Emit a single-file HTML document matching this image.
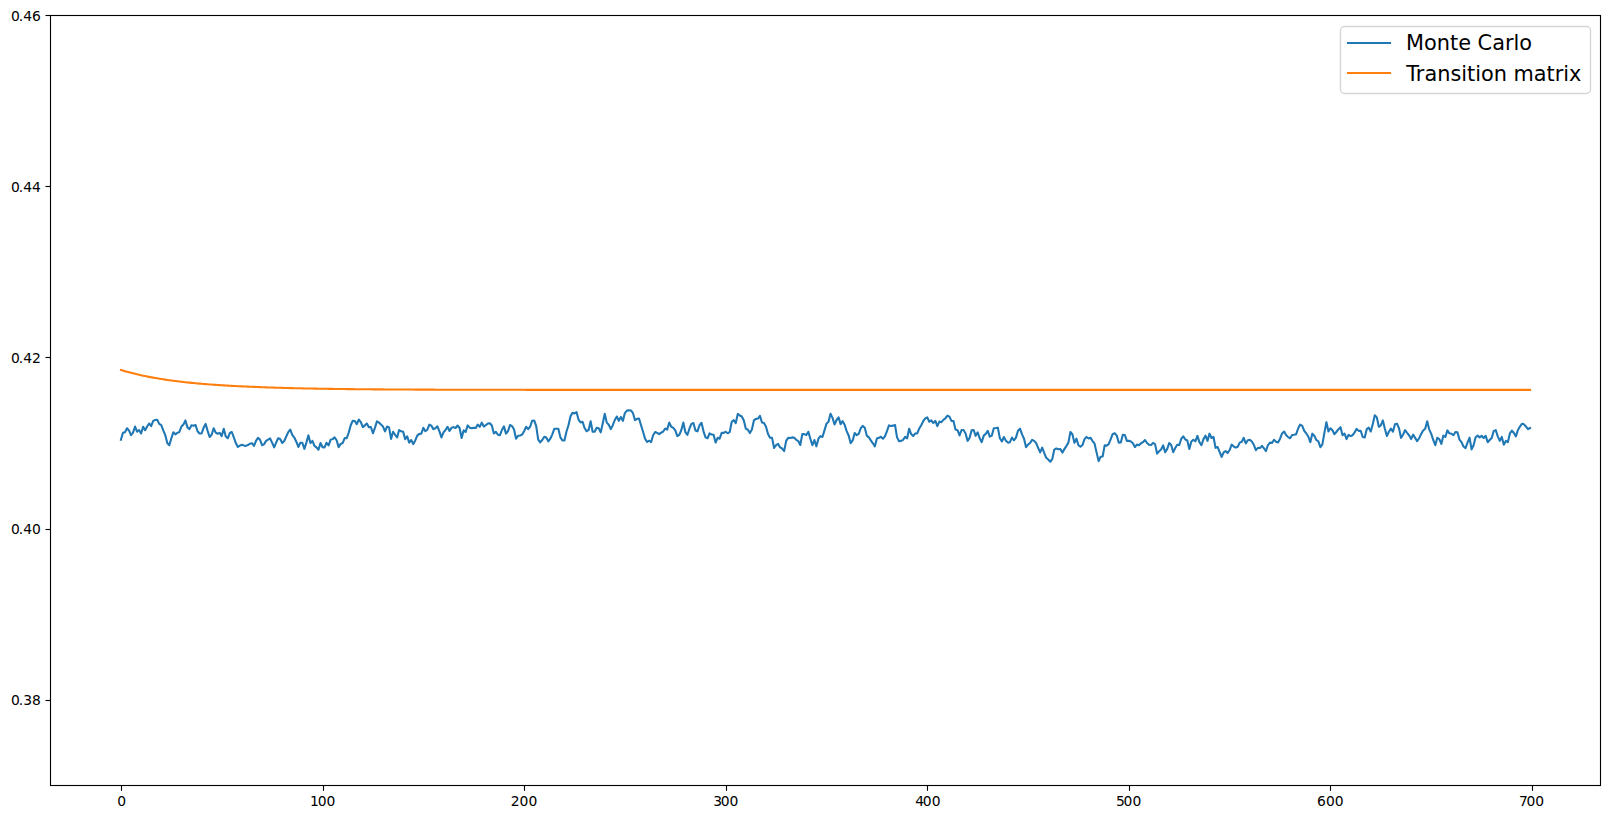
<!DOCTYPE html>
<html><head><meta charset="utf-8"><title>Monte Carlo vs Transition matrix</title>
<style>
html,body{margin:0;padding:0;background:#fff;}
body{width:1610px;height:819px;overflow:hidden;}
svg{display:block;}
text{font-family:"DejaVu Sans","Liberation Sans",sans-serif;fill:#000;}
.t{font-size:13.89px;}
.lg{font-size:20.83px;}
</style></head><body>
<svg width="1610" height="819" viewBox="0 0 1610 819">
<rect x="0" y="0" width="1610" height="819" fill="#fff"/>

<defs><clipPath id="c"><rect x="50.5" y="15.5" width="1550.0" height="770.0"/></clipPath></defs>
<g clip-path="url(#c)" fill="none" stroke-linejoin="round" stroke-linecap="square" stroke-width="2.08">
<polyline points="120.93,439.83 122.95,432.78 124.97,432.17 126.98,428.26 129.00,430.43 131.01,435.22 133.03,432.61 135.05,426.52 137.06,431.74 139.08,430.00 141.09,433.48 143.11,426.78 145.12,430.26 147.14,426.52 149.16,423.48 151.17,426.09 153.19,420.87 155.20,420.00 157.22,419.83 159.24,423.91 161.25,425.22 163.27,430.43 165.28,435.22 167.30,443.04 169.32,445.22 171.33,438.26 173.35,432.35 175.36,434.35 177.38,432.87 179.39,432.00 181.41,426.52 183.43,424.52 185.44,420.43 187.46,427.39 189.47,429.13 191.49,425.22 193.51,425.65 195.52,424.96 197.54,431.30 199.55,433.48 201.57,433.48 203.59,427.83 205.60,423.91 207.62,430.87 209.63,436.96 211.65,434.78 213.66,428.26 215.68,432.61 217.70,433.74 219.71,432.87 221.73,436.09 223.74,428.70 225.76,436.52 227.78,438.26 229.79,433.04 231.81,432.00 233.82,437.39 235.84,443.04 237.85,446.96 239.87,445.65 241.89,444.78 243.90,445.39 245.92,445.91 247.93,445.04 249.95,443.74 251.97,443.22 253.98,445.91 256.00,440.87 258.01,437.83 260.03,439.83 262.05,445.22 264.06,444.35 266.08,440.87 268.09,439.57 270.11,438.43 272.12,442.61 274.14,447.39 276.16,442.61 278.17,438.26 280.19,438.96 282.20,443.04 284.22,441.04 286.24,436.52 288.25,432.17 290.27,429.57 292.28,434.96 294.30,437.57 296.31,441.74 298.33,446.96 300.35,442.78 302.36,442.78 304.38,448.87 306.39,442.61 308.41,435.39 310.43,443.04 312.44,440.87 314.46,445.91 316.47,447.39 318.49,449.74 320.51,443.04 322.52,447.22 324.54,447.39 326.55,442.78 328.57,445.39 330.58,439.83 332.60,439.13 334.62,437.39 336.63,440.26 338.65,447.13 340.66,443.91 342.68,443.04 344.70,438.09 346.71,438.26 348.73,432.61 350.74,425.22 352.76,420.70 354.78,421.04 356.79,424.17 358.81,419.57 360.82,422.17 362.84,427.22 364.85,425.39 366.87,423.48 368.89,427.13 370.90,426.96 372.92,433.30 374.93,427.83 376.95,421.30 378.97,422.61 380.98,424.61 383.00,426.52 385.01,431.48 387.03,426.52 389.04,427.39 391.06,438.87 393.08,431.74 395.09,434.78 397.11,437.39 399.12,430.00 401.14,431.30 403.16,431.74 405.17,439.13 407.19,436.35 409.20,442.61 411.22,440.00 413.24,444.17 415.25,440.43 417.27,435.65 419.28,433.91 421.30,433.74 423.31,427.83 425.33,431.13 427.35,429.74 429.36,424.61 431.38,425.65 433.39,429.13 435.41,428.26 437.43,426.35 439.44,431.30 441.46,437.39 443.47,432.35 445.49,430.00 447.50,426.78 449.52,431.04 451.54,427.83 453.55,427.13 455.57,428.00 457.58,425.48 459.60,428.00 461.62,438.00 463.63,430.43 465.65,432.00 467.66,425.39 469.68,427.65 471.70,428.26 473.71,427.65 475.73,428.00 477.74,424.61 479.76,426.78 481.77,422.61 483.79,426.52 485.81,425.22 487.82,423.48 489.84,423.22 491.85,425.48 493.87,433.48 495.89,431.74 497.90,434.78 499.92,435.22 501.93,430.00 503.95,426.35 505.97,433.65 507.98,431.30 510.00,425.04 512.01,426.09 514.03,429.57 516.04,438.70 518.06,435.83 520.08,435.48 522.09,434.61 524.11,431.30 526.12,426.78 528.14,429.13 530.16,426.78 532.17,420.70 534.19,420.43 536.20,426.09 538.22,439.57 540.23,442.43 542.25,440.00 544.27,436.70 546.28,437.57 548.30,441.30 550.31,438.70 552.33,434.35 554.35,428.70 556.36,428.70 558.38,428.70 560.39,437.39 562.41,440.43 564.43,440.43 566.44,431.74 568.46,425.22 570.47,416.52 572.49,412.87 574.50,413.48 576.52,412.17 578.54,419.57 580.55,422.43 582.57,421.74 584.58,428.00 586.60,431.13 588.62,430.00 590.63,421.30 592.65,431.74 594.66,431.74 596.68,427.83 598.69,428.26 600.71,432.35 602.73,423.48 604.74,413.74 606.76,422.61 608.77,424.78 610.79,429.13 612.81,425.22 614.82,420.00 616.84,416.52 618.85,420.87 620.87,416.96 622.89,420.87 624.90,413.04 626.92,410.61 628.93,410.26 630.95,410.43 632.96,413.04 634.98,420.17 637.00,418.87 639.01,418.52 641.03,425.22 643.04,431.74 645.06,438.70 647.08,442.00 649.09,440.70 651.11,442.17 653.12,435.22 655.14,432.00 657.16,432.87 659.17,434.17 661.19,432.61 663.20,431.48 665.22,428.52 667.23,429.57 669.25,422.61 671.27,426.78 673.28,427.83 675.30,430.43 677.31,436.09 679.33,434.78 681.35,430.00 683.36,422.61 685.38,432.17 687.39,434.96 689.41,428.70 691.42,423.91 693.44,423.04 695.46,430.43 697.47,431.30 699.49,425.22 701.50,422.78 703.52,431.30 705.54,437.39 707.55,438.26 709.57,433.30 711.58,434.52 713.60,434.78 715.62,442.61 717.63,437.83 719.65,438.70 721.66,432.87 723.68,432.87 725.69,431.74 727.71,433.30 729.73,432.00 731.74,421.74 733.76,420.17 735.77,423.04 737.79,413.91 739.81,415.48 741.82,416.52 743.84,420.43 745.85,428.70 747.87,429.74 749.88,433.04 751.90,429.57 753.92,420.43 755.93,418.96 757.95,418.52 759.96,415.83 761.98,422.43 764.00,423.04 766.01,426.78 768.03,434.09 770.04,437.83 772.06,437.83 774.08,448.00 776.09,445.22 778.11,443.91 780.12,447.39 782.14,448.52 784.15,451.13 786.17,440.87 788.19,437.83 790.20,438.00 792.22,437.39 794.23,437.83 796.25,439.83 798.27,441.04 800.28,444.96 802.30,434.09 804.31,434.09 806.33,435.04 808.35,431.74 810.36,438.70 812.38,445.22 814.39,440.00 816.41,446.35 818.42,438.70 820.44,436.09 822.46,436.96 824.47,430.43 826.49,423.65 828.50,421.74 830.52,413.65 832.54,417.83 834.55,424.52 836.57,420.00 838.58,417.39 840.60,424.17 842.61,421.13 844.63,424.78 846.65,431.13 848.66,435.48 850.68,443.22 852.69,440.43 854.71,433.04 856.73,435.22 858.74,433.91 860.76,428.26 862.77,425.91 864.79,427.83 866.81,435.65 868.82,437.39 870.84,440.43 872.85,443.30 874.87,446.35 876.88,438.52 878.90,437.83 880.92,436.78 882.93,438.70 884.95,436.35 886.96,431.13 888.98,425.39 891.00,425.91 893.01,425.65 895.03,424.96 897.04,437.39 899.06,441.30 901.08,440.87 903.09,439.83 905.11,436.96 907.12,438.43 909.14,428.70 911.15,434.09 913.17,436.09 915.19,433.48 917.20,433.48 919.22,428.52 921.23,425.22 923.25,421.13 925.27,418.43 927.28,417.39 929.30,421.74 931.31,420.43 933.33,423.04 935.34,420.87 937.36,426.09 939.38,421.57 941.39,422.17 943.41,419.83 945.42,418.26 947.44,415.65 949.46,416.70 951.47,420.87 953.49,421.04 955.50,429.57 957.52,430.17 959.54,435.48 961.55,430.00 963.57,430.00 965.58,433.48 967.60,440.87 969.61,437.83 971.63,430.26 973.65,430.00 975.66,435.83 977.68,432.35 979.69,438.26 981.71,442.17 983.73,435.65 985.74,433.91 987.76,430.87 989.77,436.70 991.79,435.65 993.80,428.26 995.82,428.00 997.84,427.65 999.85,438.26 1001.87,441.48 1003.88,436.96 1005.90,440.70 1007.92,442.61 1009.93,442.17 1011.95,437.57 1013.96,440.26 1015.98,437.65 1018.00,430.70 1020.01,428.70 1022.03,434.35 1024.04,438.70 1026.06,447.22 1028.07,444.61 1030.09,443.04 1032.11,439.83 1034.12,440.87 1036.14,443.04 1038.15,447.83 1040.17,452.43 1042.19,447.65 1044.20,452.78 1046.22,457.83 1048.23,459.57 1050.25,461.74 1052.27,459.13 1054.28,449.57 1056.30,448.52 1058.31,449.30 1060.33,448.96 1062.34,452.61 1064.36,449.13 1066.38,446.09 1068.39,442.61 1070.41,432.00 1072.42,434.17 1074.44,442.87 1076.46,438.70 1078.47,445.22 1080.49,446.70 1082.50,445.04 1084.52,439.13 1086.53,436.96 1088.55,438.52 1090.57,437.83 1092.58,441.04 1094.60,443.74 1096.61,452.61 1098.63,461.13 1100.65,456.70 1102.66,456.52 1104.68,445.39 1106.69,445.65 1108.71,444.17 1110.73,439.13 1112.74,433.91 1114.76,433.22 1116.77,435.65 1118.79,442.61 1120.80,442.43 1122.82,434.78 1124.84,434.96 1126.85,440.87 1128.87,440.70 1130.88,441.48 1132.90,443.22 1134.92,446.96 1136.93,444.61 1138.95,445.22 1140.96,443.22 1142.98,442.17 1144.99,440.00 1147.01,443.04 1149.03,444.78 1151.04,444.96 1153.06,442.87 1155.07,444.09 1157.09,453.65 1159.11,451.30 1161.12,449.57 1163.14,445.39 1165.15,452.17 1167.17,449.13 1169.19,443.04 1171.20,445.04 1173.22,452.17 1175.23,448.00 1177.25,444.78 1179.26,445.04 1181.28,438.70 1183.30,436.35 1185.31,439.57 1187.33,440.43 1189.34,448.96 1191.36,441.57 1193.38,439.74 1195.39,441.30 1197.41,435.91 1199.42,442.17 1201.44,445.22 1203.46,439.13 1205.47,435.65 1207.49,440.87 1209.50,433.65 1211.52,438.00 1213.53,436.96 1215.55,447.83 1217.57,446.96 1219.58,451.91 1221.60,456.96 1223.61,452.43 1225.63,451.04 1227.65,453.04 1229.66,450.00 1231.68,444.61 1233.69,446.52 1235.71,447.65 1237.72,446.78 1239.74,442.61 1241.76,441.74 1243.77,437.83 1245.79,443.48 1247.80,440.17 1249.82,439.83 1251.84,441.48 1253.85,444.78 1255.87,450.17 1257.88,447.83 1259.90,448.09 1261.92,445.83 1263.93,448.26 1265.95,451.04 1267.96,445.04 1269.98,442.61 1271.99,443.04 1274.01,439.74 1276.03,441.74 1278.04,442.43 1280.06,438.70 1282.07,433.48 1284.09,431.48 1286.11,435.04 1288.12,437.13 1290.14,438.26 1292.15,434.96 1294.17,434.78 1296.18,434.17 1298.20,428.26 1300.22,424.61 1302.23,425.83 1304.25,430.87 1306.26,433.48 1308.28,436.52 1310.30,442.17 1312.31,433.65 1314.33,435.65 1316.34,440.00 1318.36,441.30 1320.38,447.22 1322.39,444.35 1324.41,432.61 1326.42,422.17 1328.44,431.48 1330.45,428.26 1332.47,430.17 1334.49,434.17 1336.50,431.74 1338.52,429.13 1340.53,427.22 1342.55,435.22 1344.57,433.65 1346.58,439.13 1348.60,434.78 1350.61,436.09 1352.63,435.22 1354.65,432.35 1356.66,428.87 1358.68,430.87 1360.69,430.70 1362.71,436.96 1364.72,437.39 1366.74,429.13 1368.76,427.65 1370.77,431.48 1372.79,423.91 1374.80,415.22 1376.82,417.39 1378.84,426.78 1380.85,425.39 1382.87,420.43 1384.88,428.70 1386.90,436.09 1388.91,431.74 1390.93,428.70 1392.95,431.74 1394.96,424.35 1396.98,423.65 1398.99,428.26 1401.01,437.83 1403.03,434.78 1405.04,430.17 1407.06,432.87 1409.07,435.22 1411.09,439.13 1413.11,434.61 1415.12,437.83 1417.14,441.13 1419.15,438.26 1421.17,433.91 1423.18,430.43 1425.20,428.70 1427.22,421.30 1429.23,429.57 1431.25,433.91 1433.26,440.00 1435.28,445.22 1437.30,437.83 1439.31,439.13 1441.33,443.91 1443.34,435.65 1445.36,436.96 1447.37,430.43 1449.39,433.30 1451.41,433.65 1453.42,435.22 1455.44,432.00 1457.45,432.35 1459.47,439.57 1461.49,442.17 1463.50,446.52 1465.52,448.09 1467.53,442.61 1469.55,437.65 1471.57,449.39 1473.58,445.22 1475.60,437.22 1477.61,435.65 1479.63,437.39 1481.64,435.83 1483.66,438.00 1485.68,435.83 1487.69,442.17 1489.71,440.00 1491.72,438.00 1493.74,430.87 1495.76,430.17 1497.77,436.35 1499.79,440.87 1501.80,436.96 1503.82,444.78 1505.84,440.87 1507.85,442.17 1509.87,433.48 1511.88,430.70 1513.90,433.04 1515.91,436.35 1517.93,430.00 1519.95,426.52 1521.96,423.74 1523.98,424.35 1525.99,426.52 1528.01,429.13 1530.03,428.00" stroke="#1f77b4"/>
<polyline points="120.93,369.95 122.95,370.56 124.97,371.15 126.98,371.71 129.00,372.26 131.01,372.80 133.03,373.31 135.05,373.81 137.06,374.29 139.08,374.76 141.09,375.21 143.11,375.65 145.12,376.07 147.14,376.48 149.16,376.87 151.17,377.26 153.19,377.63 155.20,377.99 157.22,378.34 159.24,378.68 161.25,379.00 163.27,379.32 165.28,379.63 167.30,379.92 169.32,380.21 171.33,380.49 173.35,380.76 175.36,381.02 177.38,381.28 179.39,381.52 181.41,381.76 183.43,381.99 185.44,382.22 187.46,382.43 189.47,382.65 191.49,382.85 193.51,383.05 195.52,383.24 197.54,383.43 199.55,383.61 201.57,383.78 203.59,383.95 205.60,384.12 207.62,384.28 209.63,384.43 211.65,384.58 213.66,384.73 215.68,384.87 217.70,385.01 219.71,385.14 221.73,385.27 223.74,385.40 225.76,385.52 227.78,385.64 229.79,385.75 231.81,385.86 233.82,385.97 235.84,386.08 237.85,386.18 239.87,386.28 241.89,386.38 243.90,386.47 245.92,386.56 247.93,386.65 249.95,386.73 251.97,386.82 253.98,386.90 256.00,386.98 258.01,387.05 260.03,387.13 262.05,387.20 264.06,387.28 266.08,387.35 268.09,387.42 270.11,387.49 272.12,387.56 274.14,387.63 276.16,387.69 278.17,387.75 280.19,387.81 282.20,387.87 284.22,387.93 286.24,387.98 288.25,388.04 290.27,388.09 292.28,388.14 294.30,388.19 296.31,388.24 298.33,388.29 300.35,388.33 302.36,388.38 304.38,388.42 306.39,388.46 308.41,388.50 310.43,388.54 312.44,388.58 314.46,388.62 316.47,388.65 318.49,388.69 320.51,388.72 322.52,388.75 324.54,388.79 326.55,388.82 328.57,388.85 330.58,388.88 332.60,388.91 334.62,388.93 336.63,388.96 338.65,388.99 340.66,389.01 342.68,389.04 344.70,389.06 346.71,389.09 348.73,389.11 350.74,389.13 352.76,389.15 354.78,389.17 356.79,389.20 358.81,389.21 360.82,389.23 362.84,389.25 364.85,389.27 366.87,389.29 368.89,389.31 370.90,389.32 372.92,389.34 374.93,389.35 376.95,389.37 378.97,389.39 380.98,389.40 383.00,389.41 385.01,389.43 387.03,389.44 389.04,389.45 391.06,389.47 393.08,389.48 395.09,389.49 397.11,389.50 399.12,389.51 401.14,389.52 403.16,389.53 405.17,389.54 407.19,389.55 409.20,389.56 411.22,389.57 413.24,389.58 415.25,389.59 417.27,389.60 419.28,389.61 421.30,389.62 423.31,389.63 425.33,389.63 427.35,389.64 429.36,389.65 431.38,389.66 433.39,389.66 435.41,389.67 437.43,389.68 439.44,389.68 441.46,389.69 443.47,389.69 445.49,389.70 447.50,389.71 449.52,389.71 451.54,389.72 453.55,389.72 455.57,389.73 457.58,389.73 459.60,389.74 461.62,389.74 463.63,389.74 465.65,389.75 467.66,389.75 469.68,389.76 471.70,389.76 473.71,389.77 475.73,389.77 477.74,389.77 479.76,389.78 481.77,389.78 483.79,389.78 485.81,389.79 487.82,389.79 489.84,389.79 491.85,389.80 493.87,389.80 495.89,389.80 497.90,389.80 499.92,389.81 501.93,389.81 503.95,389.81 505.97,389.81 507.98,389.82 510.00,389.82 512.01,389.82 514.03,389.82 516.04,389.83 518.06,389.83 520.08,389.83 522.09,389.83 524.11,389.83 526.12,389.84 528.14,389.84 530.16,389.84 532.17,389.84 534.19,389.84 536.20,389.84 538.22,389.85 540.23,389.85 542.25,389.85 544.27,389.85 546.28,389.85 548.30,389.85 550.31,389.85 552.33,389.86 554.35,389.86 556.36,389.86 558.38,389.86 560.39,389.86 562.41,389.86 564.43,389.86 566.44,389.86 568.46,389.86 570.47,389.87 572.49,389.87 574.50,389.87 576.52,389.87 578.54,389.87 580.55,389.87 582.57,389.87 584.58,389.87 586.60,389.87 588.62,389.87 590.63,389.87 592.65,389.88 594.66,389.88 596.68,389.88 598.69,389.88 600.71,389.88 602.73,389.88 604.74,389.88 606.76,389.88 608.77,389.88 610.79,389.88 612.81,389.88 614.82,389.88 616.84,389.88 618.85,389.88 620.87,389.88 622.89,389.88 624.90,389.88 626.92,389.88 628.93,389.89 630.95,389.89 632.96,389.89 634.98,389.89 637.00,389.89 639.01,389.89 641.03,389.89 643.04,389.89 645.06,389.89 647.08,389.89 649.09,389.89 651.11,389.89 653.12,389.89 655.14,389.89 657.16,389.89 659.17,389.89 661.19,389.89 663.20,389.89 665.22,389.89 667.23,389.89 669.25,389.89 671.27,389.89 673.28,389.89 675.30,389.89 677.31,389.89 679.33,389.89 681.35,389.89 683.36,389.89 685.38,389.89 687.39,389.89 689.41,389.89 691.42,389.89 693.44,389.89 695.46,389.89 697.47,389.89 699.49,389.89 701.50,389.89 703.52,389.89 705.54,389.89 707.55,389.90 709.57,389.90 711.58,389.90 713.60,389.90 715.62,389.90 717.63,389.90 719.65,389.90 721.66,389.90 723.68,389.90 725.69,389.90 727.71,389.90 729.73,389.90 731.74,389.90 733.76,389.90 735.77,389.90 737.79,389.90 739.81,389.90 741.82,389.90 743.84,389.90 745.85,389.90 747.87,389.90 749.88,389.90 751.90,389.90 753.92,389.90 755.93,389.90 757.95,389.90 759.96,389.90 761.98,389.90 764.00,389.90 766.01,389.90 768.03,389.90 770.04,389.90 772.06,389.90 774.08,389.90 776.09,389.90 778.11,389.90 780.12,389.90 782.14,389.90 784.15,389.90 786.17,389.90 788.19,389.90 790.20,389.90 792.22,389.90 794.23,389.90 796.25,389.90 798.27,389.90 800.28,389.90 802.30,389.90 804.31,389.90 806.33,389.90 808.35,389.90 810.36,389.90 812.38,389.90 814.39,389.90 816.41,389.90 818.42,389.90 820.44,389.90 822.46,389.90 824.47,389.90 826.49,389.90 828.50,389.90 830.52,389.90 832.54,389.90 834.55,389.90 836.57,389.90 838.58,389.90 840.60,389.90 842.61,389.90 844.63,389.90 846.65,389.90 848.66,389.90 850.68,389.90 852.69,389.90 854.71,389.90 856.73,389.90 858.74,389.90 860.76,389.90 862.77,389.90 864.79,389.90 866.81,389.90 868.82,389.90 870.84,389.90 872.85,389.90 874.87,389.90 876.88,389.90 878.90,389.90 880.92,389.90 882.93,389.90 884.95,389.90 886.96,389.90 888.98,389.90 891.00,389.90 893.01,389.90 895.03,389.90 897.04,389.90 899.06,389.90 901.08,389.90 903.09,389.90 905.11,389.90 907.12,389.90 909.14,389.90 911.15,389.90 913.17,389.90 915.19,389.90 917.20,389.90 919.22,389.90 921.23,389.90 923.25,389.90 925.27,389.90 927.28,389.90 929.30,389.90 931.31,389.90 933.33,389.90 935.34,389.90 937.36,389.90 939.38,389.90 941.39,389.90 943.41,389.90 945.42,389.90 947.44,389.90 949.46,389.90 951.47,389.90 953.49,389.90 955.50,389.90 957.52,389.90 959.54,389.90 961.55,389.90 963.57,389.90 965.58,389.90 967.60,389.90 969.61,389.90 971.63,389.90 973.65,389.90 975.66,389.90 977.68,389.90 979.69,389.90 981.71,389.90 983.73,389.90 985.74,389.90 987.76,389.90 989.77,389.90 991.79,389.90 993.80,389.90 995.82,389.90 997.84,389.90 999.85,389.90 1001.87,389.90 1003.88,389.90 1005.90,389.90 1007.92,389.90 1009.93,389.90 1011.95,389.90 1013.96,389.90 1015.98,389.90 1018.00,389.90 1020.01,389.90 1022.03,389.90 1024.04,389.90 1026.06,389.90 1028.07,389.90 1030.09,389.90 1032.11,389.90 1034.12,389.90 1036.14,389.90 1038.15,389.90 1040.17,389.90 1042.19,389.90 1044.20,389.90 1046.22,389.90 1048.23,389.90 1050.25,389.90 1052.27,389.90 1054.28,389.90 1056.30,389.90 1058.31,389.90 1060.33,389.90 1062.34,389.90 1064.36,389.90 1066.38,389.90 1068.39,389.90 1070.41,389.90 1072.42,389.90 1074.44,389.90 1076.46,389.90 1078.47,389.90 1080.49,389.90 1082.50,389.90 1084.52,389.90 1086.53,389.90 1088.55,389.90 1090.57,389.90 1092.58,389.90 1094.60,389.90 1096.61,389.90 1098.63,389.90 1100.65,389.90 1102.66,389.90 1104.68,389.90 1106.69,389.90 1108.71,389.90 1110.73,389.90 1112.74,389.90 1114.76,389.90 1116.77,389.90 1118.79,389.90 1120.80,389.90 1122.82,389.90 1124.84,389.90 1126.85,389.90 1128.87,389.90 1130.88,389.90 1132.90,389.90 1134.92,389.90 1136.93,389.90 1138.95,389.90 1140.96,389.90 1142.98,389.90 1144.99,389.90 1147.01,389.90 1149.03,389.90 1151.04,389.90 1153.06,389.90 1155.07,389.90 1157.09,389.90 1159.11,389.90 1161.12,389.90 1163.14,389.90 1165.15,389.90 1167.17,389.90 1169.19,389.90 1171.20,389.90 1173.22,389.90 1175.23,389.90 1177.25,389.90 1179.26,389.90 1181.28,389.90 1183.30,389.90 1185.31,389.90 1187.33,389.90 1189.34,389.90 1191.36,389.90 1193.38,389.90 1195.39,389.90 1197.41,389.90 1199.42,389.90 1201.44,389.90 1203.46,389.90 1205.47,389.90 1207.49,389.90 1209.50,389.90 1211.52,389.90 1213.53,389.90 1215.55,389.90 1217.57,389.90 1219.58,389.90 1221.60,389.90 1223.61,389.90 1225.63,389.90 1227.65,389.90 1229.66,389.90 1231.68,389.90 1233.69,389.90 1235.71,389.90 1237.72,389.90 1239.74,389.90 1241.76,389.90 1243.77,389.90 1245.79,389.90 1247.80,389.90 1249.82,389.90 1251.84,389.90 1253.85,389.90 1255.87,389.90 1257.88,389.90 1259.90,389.90 1261.92,389.90 1263.93,389.90 1265.95,389.90 1267.96,389.90 1269.98,389.90 1271.99,389.90 1274.01,389.90 1276.03,389.90 1278.04,389.90 1280.06,389.90 1282.07,389.90 1284.09,389.90 1286.11,389.90 1288.12,389.90 1290.14,389.90 1292.15,389.90 1294.17,389.90 1296.18,389.90 1298.20,389.90 1300.22,389.90 1302.23,389.90 1304.25,389.90 1306.26,389.90 1308.28,389.90 1310.30,389.90 1312.31,389.90 1314.33,389.90 1316.34,389.90 1318.36,389.90 1320.38,389.90 1322.39,389.90 1324.41,389.90 1326.42,389.90 1328.44,389.90 1330.45,389.90 1332.47,389.90 1334.49,389.90 1336.50,389.90 1338.52,389.90 1340.53,389.90 1342.55,389.90 1344.57,389.90 1346.58,389.90 1348.60,389.90 1350.61,389.90 1352.63,389.90 1354.65,389.90 1356.66,389.90 1358.68,389.90 1360.69,389.90 1362.71,389.90 1364.72,389.90 1366.74,389.90 1368.76,389.90 1370.77,389.90 1372.79,389.90 1374.80,389.90 1376.82,389.90 1378.84,389.90 1380.85,389.90 1382.87,389.90 1384.88,389.90 1386.90,389.90 1388.91,389.90 1390.93,389.90 1392.95,389.90 1394.96,389.90 1396.98,389.90 1398.99,389.90 1401.01,389.90 1403.03,389.90 1405.04,389.90 1407.06,389.90 1409.07,389.90 1411.09,389.90 1413.11,389.90 1415.12,389.90 1417.14,389.90 1419.15,389.90 1421.17,389.90 1423.18,389.90 1425.20,389.90 1427.22,389.90 1429.23,389.90 1431.25,389.90 1433.26,389.90 1435.28,389.90 1437.30,389.90 1439.31,389.90 1441.33,389.90 1443.34,389.90 1445.36,389.90 1447.37,389.90 1449.39,389.90 1451.41,389.90 1453.42,389.90 1455.44,389.90 1457.45,389.90 1459.47,389.90 1461.49,389.90 1463.50,389.90 1465.52,389.90 1467.53,389.90 1469.55,389.90 1471.57,389.90 1473.58,389.90 1475.60,389.90 1477.61,389.90 1479.63,389.90 1481.64,389.90 1483.66,389.90 1485.68,389.90 1487.69,389.90 1489.71,389.90 1491.72,389.90 1493.74,389.90 1495.76,389.90 1497.77,389.90 1499.79,389.90 1501.80,389.90 1503.82,389.90 1505.84,389.90 1507.85,389.90 1509.87,389.90 1511.88,389.90 1513.90,389.90 1515.91,389.90 1517.93,389.90 1519.95,389.90 1521.96,389.90 1523.98,389.90 1525.99,389.90 1528.01,389.90 1530.03,389.90" stroke="#ff7f0e"/>
</g>
<g stroke="#000" stroke-width="1.11" fill="none">
<line x1="121.5" y1="785.5" x2="121.5" y2="790.8"/>
<line x1="323.5" y1="785.5" x2="323.5" y2="790.8"/>
<line x1="524.5" y1="785.5" x2="524.5" y2="790.8"/>
<line x1="726.5" y1="785.5" x2="726.5" y2="790.8"/>
<line x1="927.5" y1="785.5" x2="927.5" y2="790.8"/>
<line x1="1129.5" y1="785.5" x2="1129.5" y2="790.8"/>
<line x1="1330.5" y1="785.5" x2="1330.5" y2="790.8"/>
<line x1="1532.5" y1="785.5" x2="1532.5" y2="790.8"/>
<line x1="45.5" y1="700.5" x2="50.5" y2="700.5"/>
<line x1="45.5" y1="529.5" x2="50.5" y2="529.5"/>
<line x1="45.5" y1="357.5" x2="50.5" y2="357.5"/>
<line x1="45.5" y1="186.5" x2="50.5" y2="186.5"/>
<line x1="45.5" y1="15.5" x2="50.5" y2="15.5"/>
<rect x="50.5" y="15.5" width="1550.0" height="770.0" stroke-linejoin="miter"/>
</g>
<g class="t">
<text x="117.22" y="806.1">0</text>
<text x="310.07 317.70 326.54" y="806.1">100</text>
<text x="510.85 519.59 528.53" y="806.1">200</text>
<text x="713.24 720.78 729.61" y="806.1">300</text>
<text x="915.28 922.86 931.70" y="806.1">400</text>
<text x="1116.01 1123.55 1132.39" y="806.1">500</text>
<text x="1317.00 1325.94 1334.87" y="806.1">600</text>
<text x="1518.99 1526.52 1535.36" y="806.1">700</text>
<text x="10.97 18.81 23.23 32.06" y="705">0.38</text>
<text x="10.97 18.81 23.23 32.06" y="534">0.40</text>
<text x="10.97 18.81 23.23 32.06" y="363">0.42</text>
<text x="10.97 18.81 23.23 32.06" y="192">0.44</text>
<text x="10.97 18.81 23.23 32.06" y="21">0.46</text>
</g>
<g>
<rect x="1340.5" y="26.5" width="250" height="67" rx="4" ry="4" fill="#fff" fill-opacity="0.8" stroke="#cccccc" stroke-opacity="0.8" stroke-width="1.39"/>
<line x1="1348" y1="42.95" x2="1390" y2="42.95" stroke="#1f77b4" stroke-width="2.08" stroke-linecap="square"/>
<line x1="1348" y1="73.0" x2="1390" y2="73.0" stroke="#ff7f0e" stroke-width="2.08" stroke-linecap="square"/>
<text class="lg" x="1406.1" y="50.2">Monte Carlo</text>
<text class="lg" x="1406.2" y="80.8">Transition matrix</text>
</g>
</svg></body></html>
